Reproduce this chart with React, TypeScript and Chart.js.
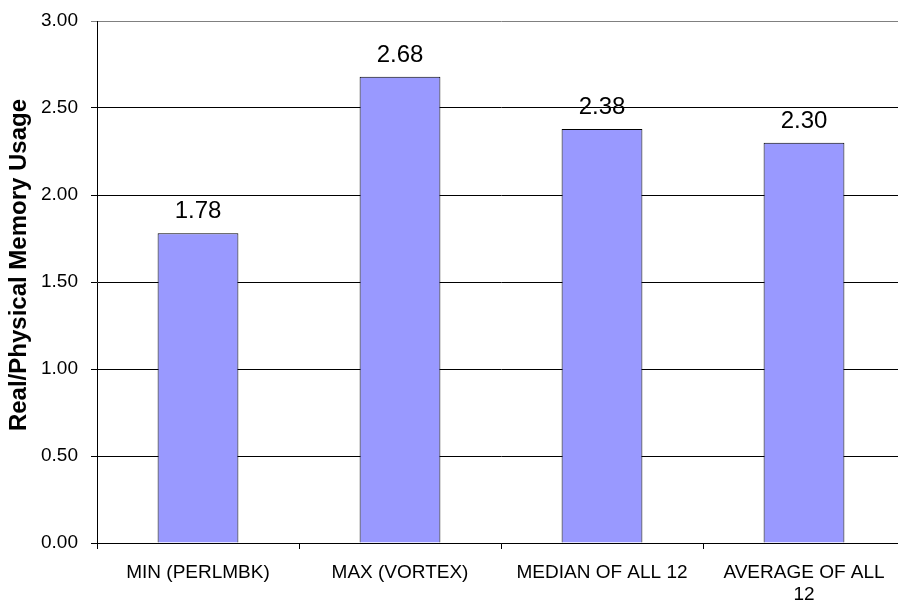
import React, { useEffect, useRef } from "react";
import { Chart, registerables } from "chart.js";

Chart.register(...registerables);

// Chart data
const categoryLabels: string[][] = [
  ["MIN (PERLMBK)"],
  ["MAX (VORTEX)"],
  ["MEDIAN OF ALL 12"],
  ["AVERAGE OF ALL", "12"],
];
const usageValues: number[] = [1.78, 2.68, 2.38, 2.3];
const yAxisTitle = "Real/Physical Memory Usage";
const yMin = 0;
const yMax = 3;
const yStep = 0.5;

const FONT = "'Liberation Sans', Arial, Helvetica, sans-serif";

// Prints each bar's value above it
const valueLabelPlugin = {
  id: "valueLabels",
  afterDatasetsDraw(chart: any) {
    const ctx = chart.ctx;
    const meta = chart.getDatasetMeta(0);
    ctx.save();
    ctx.font = `24px ${FONT}`;
    ctx.fillStyle = "#000";
    ctx.textAlign = "center";
    ctx.textBaseline = "alphabetic";
    meta.data.forEach((bar: any, i: number) => {
      const v = chart.data.datasets[0].data[i] as number;
      ctx.fillText(v.toFixed(2), bar.x, bar.y - 15);
    });
    ctx.restore();
  },
};

// Rotated y-axis caption
const yTitlePlugin = {
  id: "yTitle",
  afterDraw(chart: any) {
    const ctx = chart.ctx;
    ctx.save();
    ctx.translate(19, 265);
    ctx.rotate(-Math.PI / 2);
    ctx.font = `bold 24px ${FONT}`;
    ctx.fillStyle = "#000";
    ctx.textAlign = "center";
    ctx.textBaseline = "middle";
    ctx.fillText(yAxisTitle, 0, 0);
    ctx.restore();
  },
};

export default function App() {
  const canvasRef = useRef<HTMLCanvasElement | null>(null);

  useEffect(() => {
    if (!canvasRef.current) return;
    const chart = new Chart(canvasRef.current, {
      type: "bar",
      data: {
        labels: categoryLabels,
        datasets: [
          {
            data: usageValues,
            backgroundColor: "#9999FF",
            borderColor: "#000",
            borderWidth: 1,
            barPercentage: 0.4,
            categoryPercentage: 1,
          },
        ],
      },
      options: {
        responsive: false,
        animation: false,
        layout: { padding: { top: 21, left: 0, right: 5, bottom: 0 } },
        plugins: {
          legend: { display: false },
          tooltip: { enabled: false },
          title: { display: false },
        },
        scales: {
          x: {
            offset: true,
            afterFit: (scale: any) => {
              scale.height = 60;
            },
            grid: {
              offset: true,
              drawOnChartArea: false,
              drawTicks: true,
              tickLength: 6,
              color: "#000",
            },
            border: { display: true, color: "#000", width: 1 },
            ticks: {
              autoSkip: false,
              maxRotation: 0,
              minRotation: 0,
              padding: 12,
              color: "#000",
              font: { family: FONT, size: 19 },
            },
          },
          y: {
            min: yMin,
            max: yMax,
            afterFit: (scale: any) => {
              scale.width = 97;
              scale.paddingTop = 0;
              scale.paddingBottom = 0;
            },
            grid: {
              drawTicks: true,
              tickLength: 6,
              color: (c: any) => (c.tick && c.tick.value === yMax ? "#808080" : "#000"),
              lineWidth: 1,
            },
            border: { display: true, color: "#000", width: 1 },
            ticks: {
              stepSize: yStep,
              padding: 13,
              color: "#000",
              font: { family: FONT, size: 19 },
              callback: (v: any) => Number(v).toFixed(2),
            },
          },
        },
      },
      plugins: [valueLabelPlugin, yTitlePlugin],
    });
    return () => chart.destroy();
  }, []);

  return (
    <div
      style={{
        position: "fixed",
        left: 0,
        top: 0,
        width: 898,
        height: 603,
        overflow: "hidden",
        background: "#fff",
      }}
    >
      <canvas ref={canvasRef} width={910} height={603} style={{ display: "block" }} />
    </div>
  );
}
